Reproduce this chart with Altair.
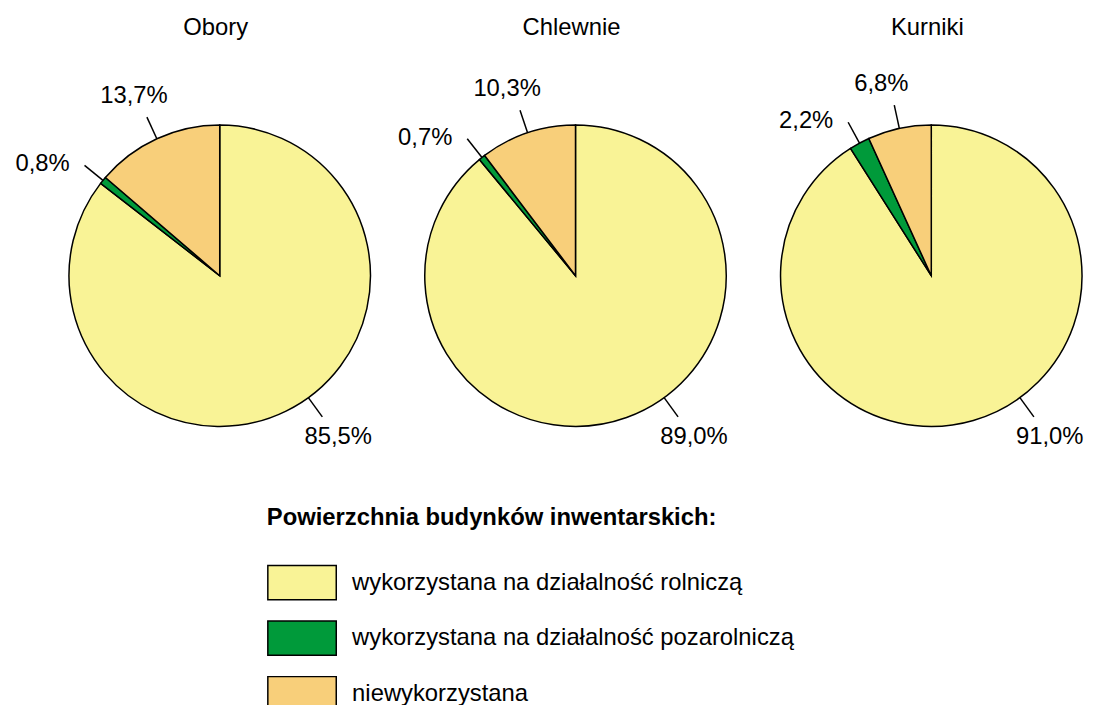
import math
import altair as alt
import pandas as pd

# ---------------- data ----------------
PIES = ["Obory", "Chlewnie", "Kurniki"]
CATEGORIES = [
    "wykorzystana na działalność rolniczą",
    "wykorzystana na działalność pozarolniczą",
    "niewykorzystana",
]
ROLNICZA = [85.5, 89.0, 91.0]
POZAROLNICZA = [0.8, 0.7, 2.2]
NIEWYKORZYSTANA = [13.7, 10.3, 6.8]
LEGEND_TITLE = "Powierzchnia budynków inwentarskich:"

# ---------------- style / layout ----------------
COLORS = ["#F9F396", "#009A3A", "#F8CF7A"]
FONT = "Liberation Sans"
FS = 24
UNIT = 358.75          # px between pie centres
CX0 = 213.5            # first pie centre (plot px)
CY = 267               # pie centre row (plot px)
R = 152                # pie radius px
R1, R2 = 152, 176      # leader line radii px
BIG_TURN = 0.40        # label direction of the large slice (fraction of a turn)

rows = []
series = [ROLNICZA, POZAROLNICZA, NIEWYKORZYSTANA]
for i, pie in enumerate(PIES):
    for k, cat in enumerate(CATEGORIES):
        rows.append({"pie": pie, "idx": i, "cat": cat, "k": k, "value": series[k][i]})
df = pd.DataFrame(rows)
titles = pd.DataFrame({"pie": PIES, "idx": list(range(len(PIES)))})

xs = alt.Scale(domain=[0, 2], range=[CX0, CX0 + 2 * UNIT], nice=False, zero=False)
ys = alt.Scale(domain=[-1, 1], range=[CY + UNIT, CY - UNIT], nice=False, zero=False)

base = (
    alt.Chart(df)
    .transform_window(cum="sum(value)", groupby=["pie"], sort=[alt.SortField("k")], frame=[None, 0])
    .transform_calculate(t0="datum.cum - datum.value", t1="datum.cum", zero="0")
    .transform_calculate(
        ang=f"(datum.k == 0 ? {BIG_TURN * 100} : (datum.t0 + datum.t1) / 2) / 100 * 2 * PI",
    )
    .transform_calculate(
        lx1=f"datum.idx + {R1 / UNIT} * sin(datum.ang)",
        ly1=f"{R1 / UNIT} * cos(datum.ang)",
        lx2=f"datum.idx + {R2 / UNIT} * sin(datum.ang)",
        ly2=f"{R2 / UNIT} * cos(datum.ang)",
        label="replace(format(datum.value, '.1f'), '.', ',') + '%'",
    )
)

arcs = base.mark_arc(radius=R, stroke="black", strokeWidth=1.5).encode(
    x=alt.X("idx:Q", scale=xs, axis=None),
    y=alt.Y("zero:Q", scale=ys, axis=None),
    theta=alt.Theta("t0:Q", scale=alt.Scale(domain=[0, 100], range=[0, 2 * math.pi]), stack=None),
    theta2="t1:Q",
    color=alt.Color(
        "cat:N",
        sort=CATEGORIES,
        scale=alt.Scale(domain=CATEGORIES, range=COLORS),
        legend=alt.Legend(
            title=LEGEND_TITLE,
            orient="none",
            legendX=261,
            legendY=499,
            direction="vertical",
            padding=0,
            titleFont=FONT,
            titleFontSize=FS,
            titleFontWeight="bold",
            titleColor="black",
            titleLimit=900,
            titlePadding=18,
            labelFont=FONT,
            labelFontSize=FS,
            labelColor="black",
            labelLimit=900,
            labelOffset=15,
            symbolType="M-1,-0.5H1V0.5H-1Z",
            symbolSize=4761,
            symbolStrokeColor="black",
            symbolStrokeWidth=1.5,
            symbolOpacity=1,
            rowPadding=-15,
        ),
    ),
)

leaders = base.mark_rule(stroke="black", strokeWidth=1.5).encode(
    x=alt.X("lx1:Q", scale=xs, axis=None),
    y=alt.Y("ly1:Q", scale=ys, axis=None),
    x2="lx2:Q",
    y2="ly2:Q",
)

def label_layer(k, align, dx, dy):
    return (
        base.transform_filter(f"datum.k == {k}")
        .mark_text(font=FONT, fontSize=FS, color="black", align=align, baseline="middle", dx=dx, dy=dy)
        .encode(
            x=alt.X("lx2:Q", scale=xs, axis=None),
            y=alt.Y("ly2:Q", scale=ys, axis=None),
            text="label:N",
        )
    )

lab_big = label_layer(0, "center", 16, 20)
lab_green = label_layer(1, "right", -15, -1)
lab_orange = label_layer(2, "center", -13, -21)

title_text = (
    alt.Chart(titles)
    .mark_text(font=FONT, fontSize=FS, color="black", align="center", baseline="middle", dx=-4)
    .encode(x=alt.X("idx:Q", scale=xs, axis=None), y=alt.value(17), text="pie:N")
)

chart = (
    alt.layer(arcs, leaders, lab_big, lab_green, lab_orange, title_text)
    .properties(width=1077, height=689, padding=0)
    .configure_view(stroke=None)
)

chart.save("out.html", embed_options={"renderer": "svg", "actions": False})
